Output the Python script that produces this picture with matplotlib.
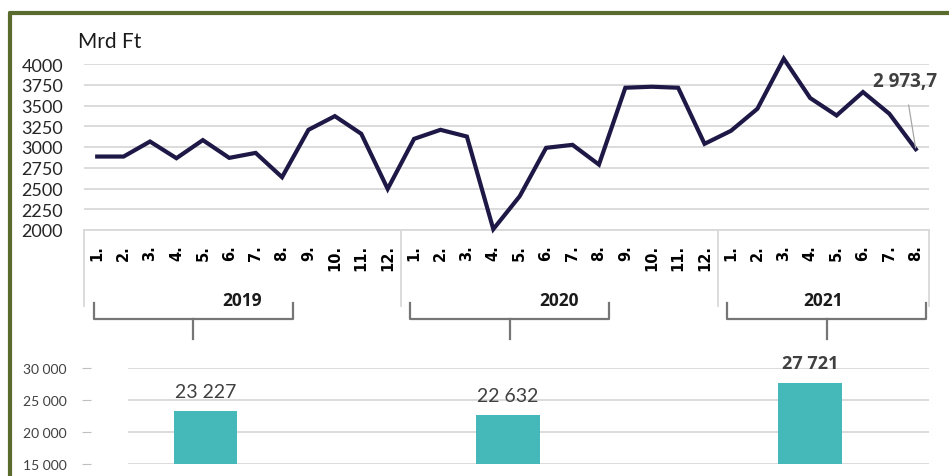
import numpy as np
import matplotlib.pyplot as plt
from matplotlib.lines import Line2D
import matplotlib.transforms as mtransforms

# monthly values, Mrd Ft
years = ['2019', '2020', '2021']
months_per_year = [12, 12, 8]
values = [2885, 2885, 3066, 2865, 3083, 2869, 2929, 2636, 3207, 3372, 3159, 2495,
          3098, 3207, 3126, 2010, 2407, 2990, 3026, 2788, 3714, 3726, 3714, 3038,
          3195, 3460, 4064, 3590, 3380, 3662, 3400, 2973.7]
month_labels = [f'{m}.' for n in months_per_year for m in range(1, n + 1)]
last_label = '2 973,7'

# yearly totals (first 8 months)
totals = [23227, 22632, 27721]
total_labels = ['23 227', '22 632', '27 721']

W, H = 949, 477
fig = plt.figure(figsize=(W / 100, H / 100), dpi=100)
plt.rcParams['font.family'] = ['Lato', 'DejaVu Sans']

def fbox(l, t, r, b):
    return [l / W, 1 - b / H, (r - l) / W, (b - t) / H]

grid_c = '#d9d9d9'
line_c = '#1e1846'
green = '#5a6b2e'
bold_font = ['Open Sans', 'DejaVu Sans']

# ---- top: line chart ----
ax1 = fig.add_axes(fbox(84, 65, 929, 231))
x = np.arange(len(values))
ax1.plot(x, values, color=line_c, lw=3, clip_on=False, solid_joinstyle='miter', zorder=3)
ax1.set_xlim(-0.5, len(values) - 0.5)
ax1.set_ylim(2000, 4000)
ax1.set_yticks(np.arange(2000, 4001, 250))
ax1.tick_params(axis='y', length=0, pad=15, labelsize=13, labelcolor='#262626')
ax1.set_xticks(x)
ax1.set_xticklabels(month_labels, rotation=90, fontweight='bold', family='DejaVu Sans',
                    fontsize=10.5)
ax1.tick_params(axis='x', length=0, pad=10)
for s in ax1.spines.values():
    s.set_visible(False)
ax1.grid(axis='y', color=grid_c, lw=1.3)
ax1.axhline(2000, color=grid_c, lw=1.3, clip_on=False)

tr = mtransforms.blended_transform_factory(ax1.transData, ax1.transAxes)
starts = np.concatenate([[0], np.cumsum(months_per_year)]) - 0.5
for b in starts:
    ax1.plot([b, b], [0, -0.458], color=grid_c, lw=1.3, transform=tr, clip_on=False)
for i, yr in enumerate(years):
    ax1.text((starts[i] + starts[i + 1]) / 2, -0.42, yr, transform=tr, ha='center',
             va='center', fontsize=12.5, fontweight='bold', family=bold_font, color='#1a1a1a')
    # brace under months 1-8
    x0, x1 = starts[i] + 0.36, starts[i] + 7.9
    xm = (x0 + x1) / 2
    ax1.plot([x0, x0, x1, x1], [-0.44, -0.536, -0.536, -0.44], color='#767676', lw=1.6,
             transform=tr, clip_on=False, solid_joinstyle='round')
    ax1.plot([xm, xm], [-0.536, -0.657], color='#767676', lw=1.6, transform=tr,
             clip_on=False)

ax1.annotate(last_label, xy=(x[-1], values[-1]), xytext=(-11, 68), textcoords='offset pixels',
             ha='center', va='center', fontsize=13.5, fontweight='bold', family=bold_font,
             color='#404040',
             arrowprops=dict(arrowstyle='-', color='#a6a6a6', lw=0.9, shrinkA=8, shrinkB=1))

fig.text(78 / W, 1 - 42 / H, 'Mrd Ft', fontsize=15, ha='left', va='center', color='#1a1a1a')

# ---- bottom: bar chart ----
ax2 = fig.add_axes(fbox(128, 369, 929, 465))
bx = np.arange(len(totals))
ax2.bar(bx, np.array(totals) - 15000, bottom=15000, width=0.209, color='#45b8ba', zorder=2)
ax2.set_xlim(-0.258, 2.394)
ax2.set_ylim(15000, 30000)
ax2.set_yticks([15000, 20000, 25000, 30000])
ax2.set_yticklabels(['15 000', '20 000', '25 000', '30 000'])
ax2.set_xticks([])
for s in ax2.spines.values():
    s.set_visible(False)
ax2.spines['left'].set_position(('outward', 26.6))
ax2.tick_params(axis='y', length=6.5, color='#bfbfbf', pad=11, labelsize=10,
                labelcolor='#404040')
ax2.grid(axis='y', color=grid_c, lw=1.3, zorder=0)
for i, (v, lab) in enumerate(zip(totals, total_labels)):
    ax2.annotate(lab, xy=(bx[i], v), xytext=(0, 20), textcoords='offset pixels',
                 ha='center', va='center', fontsize=14 if i < 2 else 13,
                 color='#404040', family='Lato' if i < 2 else bold_font,
                 fontweight='bold' if i == 2 else 'normal', annotation_clip=False)

# ---- frame ----
fig.add_artist(Line2D([10 / W, 10 / W], [-0.05, 1 - 14 / H], color=green, lw=3,
                      solid_capstyle='round'))
fig.add_artist(Line2D([10 / W, 1.05], [1 - 14 / H, 1 - 14 / H], color=green, lw=3,
                      solid_capstyle='round'))

fig.savefig('out.png', dpi=100)
